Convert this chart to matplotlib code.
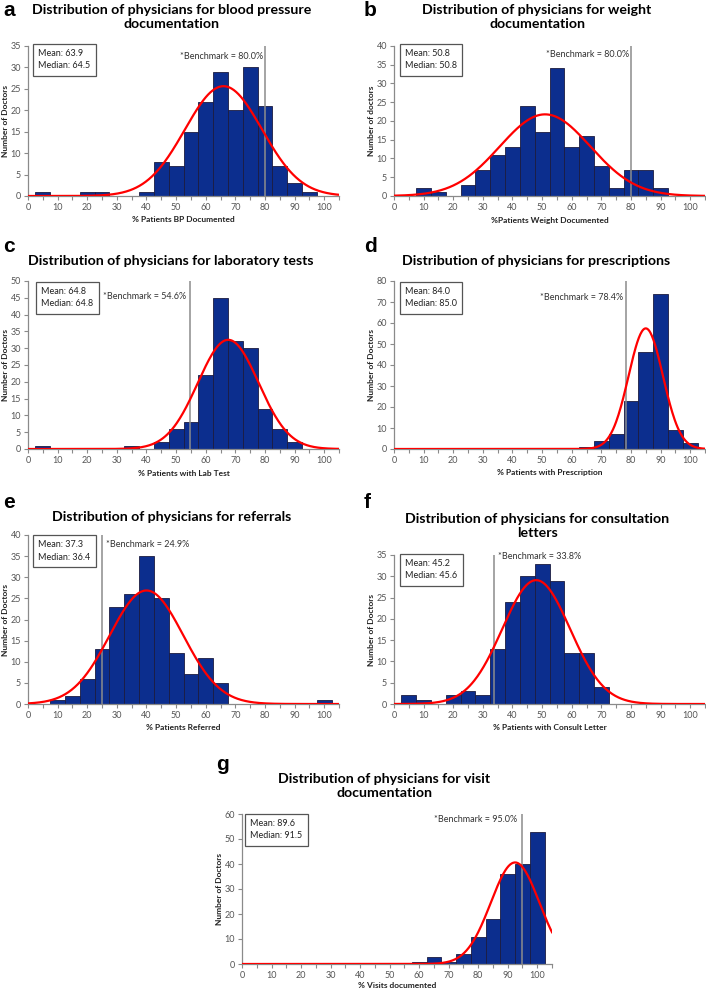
import numpy as np
import matplotlib.pyplot as plt

plt.rcParams['font.family'] = ['Lato', 'DejaVu Sans']

W, H = 706, 992

# doctors per 5% bin, bins given by their centre (empty bins left out)
bp_x = [5, 20, 25, 40, 45, 50, 55, 60, 65, 70, 75, 80, 85, 90, 95]
bp_n = [1, 1, 1, 1, 8, 7, 15, 22, 29, 20, 30, 21, 7, 3, 1]
wt_x = [10, 15, 25, 30, 35, 40, 45, 50, 55, 60, 65, 70, 75, 80, 85, 90]
wt_n = [2, 1, 3, 7, 11, 13, 24, 17, 34, 13, 16, 8, 2, 7, 7, 2]
lab_x = [5, 35, 45, 50, 55, 60, 65, 70, 75, 80, 85, 90]
lab_n = [1, 1, 2, 6, 8, 22, 45, 32, 30, 12, 6, 2]
rx_x = [65, 70, 75, 80, 85, 90, 95, 100]
rx_n = [1, 4, 7, 23, 46, 74, 9, 3]
ref_x = [10, 15, 20, 25, 30, 35, 40, 45, 50, 55, 60, 65, 100]
ref_n = [1, 2, 6, 13, 23, 26, 35, 25, 12, 7, 11, 5, 1]
con_x = [5, 10, 20, 25, 30, 35, 40, 45, 50, 55, 60, 65, 70]
con_n = [2, 1, 2, 3, 2, 13, 24, 30, 33, 29, 12, 12, 4]
vis_x = [60, 65, 70, 75, 80, 85, 90, 95, 100]
vis_n = [1, 3, 1, 4, 11, 18, 36, 40, 53]

# fitted normal curve (centre, sd)
fit_mu = [66.0, 51.0, 67.6, 85.0, 40.0, 48.0, 92.5]
fit_sd = [13.0, 15.3, 10.25, 5.8, 12.4, 11.45, 8.2]

means = [63.9, 50.8, 64.8, 84.0, 37.3, 45.2, 89.6]
medians = [64.5, 50.8, 64.8, 85.0, 36.4, 45.6, 91.5]
benchmarks = [80.0, 80.0, 54.6, 78.4, 24.9, 33.8, 95.0]

letters = ['a', 'b', 'c', 'd', 'e', 'f', 'g']
titles = ['Distribution of physicians for blood pressure\ndocumentation',
          'Distribution of physicians for weight\ndocumentation',
          'Distribution of physicians for laboratory tests',
          'Distribution of physicians for prescriptions',
          'Distribution of physicians for referrals',
          'Distribution of physicians for consultation\nletters',
          'Distribution of physicians for visit\ndocumentation']
xlabels = ['% Patients BP Documented', '%Patients Weight Documented',
           '% Patients with Lab Test', '% Patients with Prescription',
           '% Patients Referred', '% Patients with Consult Letter',
           '% Visits documented']
ylabels = ['Number of Doctors', 'Number of doctors', 'Number of Doctors',
           'Number of Doctors', 'Number of Doctors', 'Number of Doctors',
           'Number of Doctors']
ytop = [35, 40, 50, 80, 40, 35, 60]
ystep = [5, 5, 5, 10, 5, 5, 10]

bins_x = [bp_x, wt_x, lab_x, rx_x, ref_x, con_x, vis_x]
bins_n = [bp_n, wt_n, lab_n, rx_n, ref_n, con_n, vis_n]

# layout in pixels
ax_box = [(28, 46, 339, 196), (394, 46, 705, 196),
          (28, 281, 339, 449), (394, 281, 705, 449),
          (28, 535, 339, 704), (394, 555, 705, 704),
          (242, 814, 552, 964)]
title_pos = [(172, 17), (537, 17), (171, 261), (536, 261),
             (172, 517), (537, 526), (384, 786)]
letter_pos = [(3, 10), (364, 10), (3, 247), (364, 247),
              (3, 502), (364, 502), (216, 765)]
box_pos = [(32, 43), (399, 43), (35, 281), (399, 281),
           (32, 534), (399, 553), (244, 813)]
xlab_y = [220, 220, 473, 473, 728, 728, 986]
ylab_x = [6, 371, 6, 371, 6, 371, 219]
# benchmark label: x (data), y (data), alignment
bench_txt = [(79.4, 32.6, 'right'), (79.4, 37.6, 'right'),
             (53.3, 45.5, 'right'), (77.4, 72.3, 'right'),
             (26.3, 37.8, 'left'), (35.0, 34.6, 'left'),
             (93.2, 57.6, 'right')]

fig = plt.figure(figsize=(W / 100, H / 100), dpi=100)


def fx(x):
    return x / W


def fy(y):
    return 1 - y / H


axis_col = '#8a8a8a'
tick_col = '#555555'

for i in range(7):
    x0, y0, x1, y1 = ax_box[i]
    ax = fig.add_axes([fx(x0), fy(y1), (x1 - x0) / W, (y1 - y0) / H])

    ax.bar(bins_x[i], bins_n[i], width=5, color='#0c2e8e', edgecolor='#1b1b40',
           linewidth=0.6, zorder=2)
    xx = np.linspace(0, 105, 400)
    tot = sum(bins_n[i])
    yy = tot * 5 / (fit_sd[i] * np.sqrt(2 * np.pi)) * np.exp(-0.5 * ((xx - fit_mu[i]) / fit_sd[i]) ** 2)
    ax.plot(xx, yy, color='#ff0000', lw=1.6, zorder=4)
    ax.axvline(benchmarks[i], color='#8c8c8c', lw=1.1, zorder=3)

    bx, by, bha = bench_txt[i]
    ax.text(bx, by, '*Benchmark = %.1f%%' % benchmarks[i], ha=bha, va='center',
            fontsize=6.5, color='#333333', zorder=5)

    ax.set_xlim(0, 105)
    ax.set_ylim(0, ytop[i])
    ax.set_xticks(np.arange(0, 101, 10))
    ax.set_xticks(np.arange(5, 106, 10), minor=True)
    ax.set_yticks(np.arange(0, ytop[i] + 1, ystep[i]))
    for s in ['top', 'right']:
        ax.spines[s].set_visible(False)
    for s in ['left', 'bottom']:
        ax.spines[s].set_color(axis_col)
        ax.spines[s].set_linewidth(0.9)
    ax.tick_params(which='both', direction='out', length=3, width=0.8,
                   color=axis_col, labelsize=6.5, labelcolor=tick_col, pad=2)

    fig.text(fx((x0 + x1) / 2), fy(xlab_y[i]), xlabels[i], ha='center', va='center',
             fontsize=6, fontweight='bold', color='#222222')
    fig.text(fx(ylab_x[i]), fy((y0 + y1) / 2), ylabels[i], ha='center', va='center',
             rotation=90, fontsize=6, fontweight='bold', color='#222222')

    tx, ty = title_pos[i]
    fig.text(fx(tx), fy(ty), titles[i], ha='center', va='center',
             multialignment='center', fontsize=10.2, fontweight='bold',
             linespacing=1.2)
    lx, ly = letter_pos[i]
    fig.text(fx(lx), fy(ly), letters[i], ha='left', va='center',
             fontsize=15, fontweight='bold', family='Liberation Sans')

    mx, my = box_pos[i]
    fig.text(fx(mx + 6), fy(my + 6), 'Mean: %.1f\nMedian: %.1f' % (means[i], medians[i]),
             ha='left', va='top', fontsize=6.5, color='#222222', linespacing=1.5,
             bbox=dict(boxstyle='square,pad=0.6', fc='white', ec='#555555', lw=0.9))

fig.savefig('out.png', dpi=100)
